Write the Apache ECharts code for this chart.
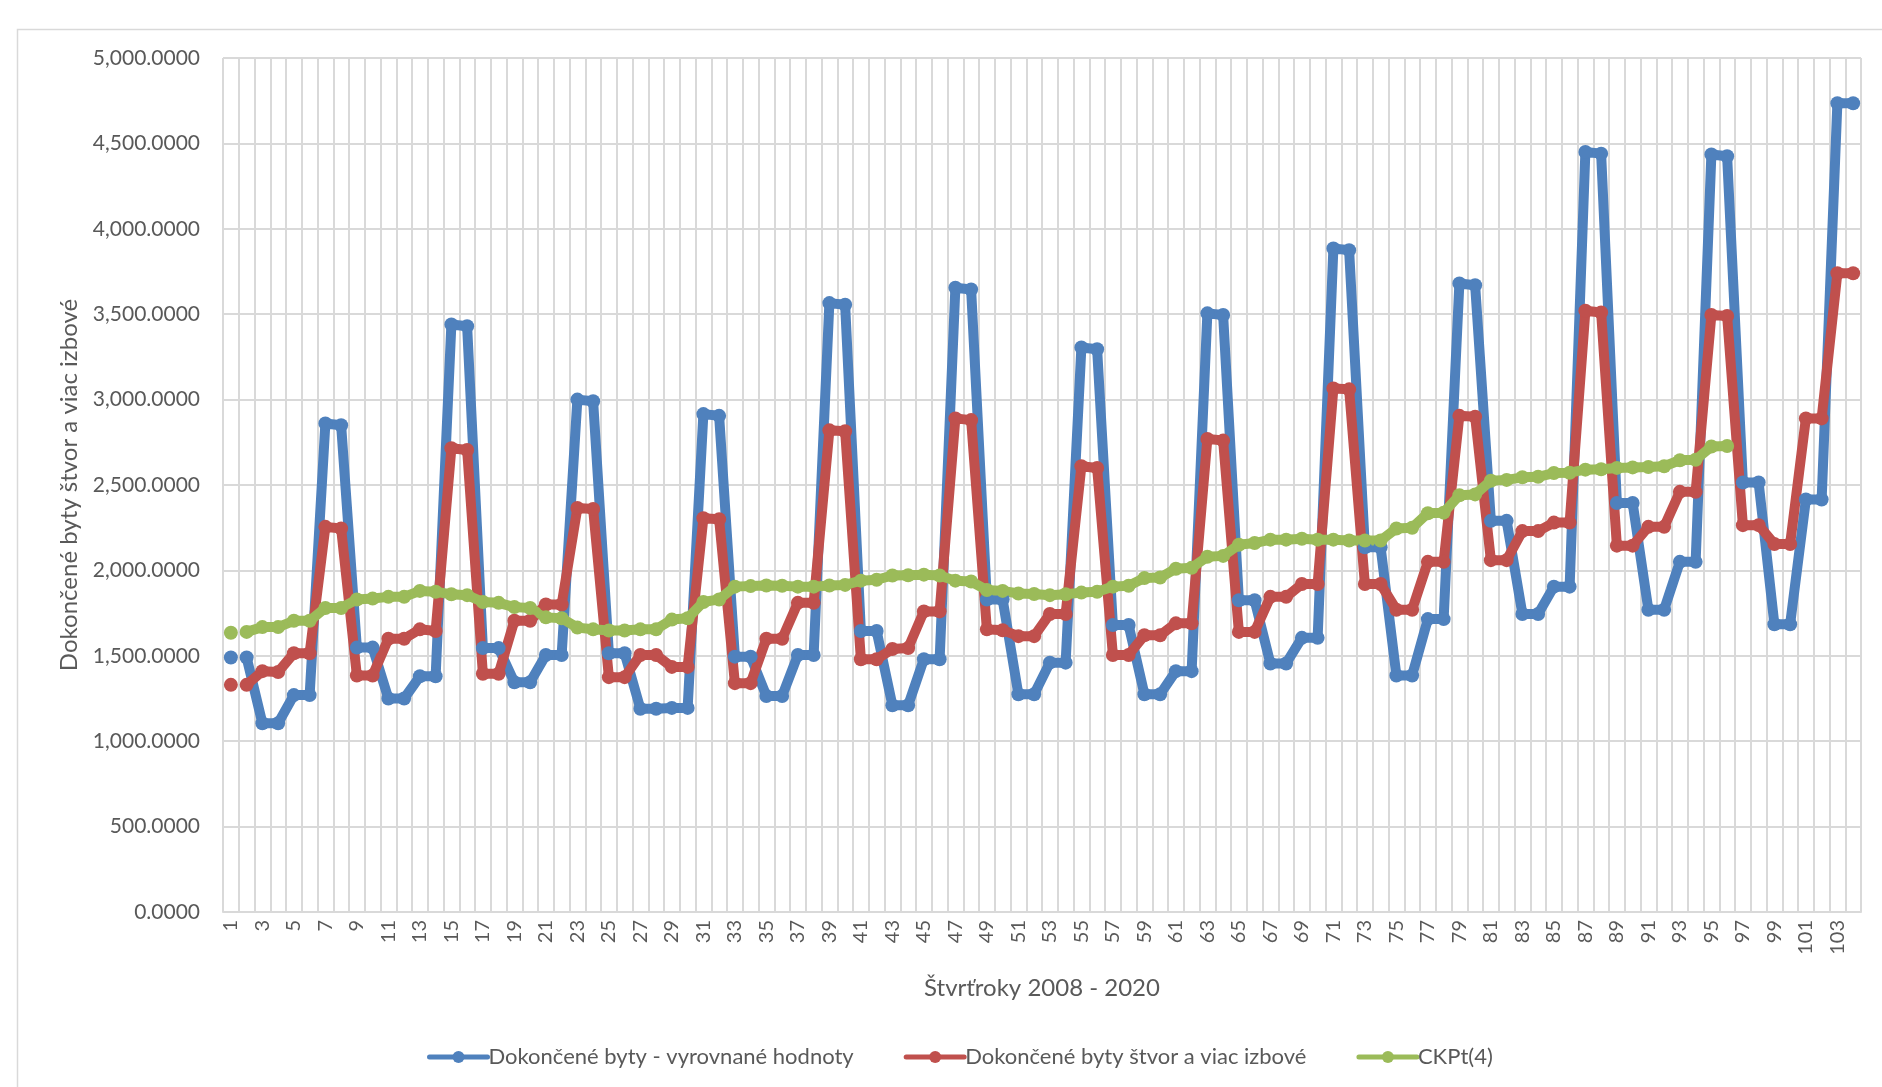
<!DOCTYPE html>
<html>
<head>
<meta charset="utf-8">
<script src="https://cdn.jsdelivr.net/npm/echarts@6/dist/echarts.min.js"></script>
<style>
  html, body { margin: 0; padding: 0; background: #fff; }
  #chart { width: 1882px; height: 1087px; }
</style>
</head>
<body>
<div id="chart"></div>
<script>
// stvrtroky 1..104
const quarters = Array.from({ length: 104 }, (_, i) => String(i + 1))

const seriesNames = [
  'Dokončené byty - vyrovnané hodnoty',
  'Dokončené byty štvor a viac izbové',
  'CKPt(4)'
]

const vyrovnane = [
  1490, 1490, 1105, 1105, 1270, 1270, 2860, 2850, 1548, 1548,
  1250, 1250, 1380, 1380, 3440, 3430, 1545, 1545, 1345, 1345,
  1505, 1505, 3000, 2990, 1515, 1515, 1190, 1190, 1195, 1195,
  2915, 2905, 1495, 1495, 1265, 1265, 1505, 1505, 3565, 3555,
  1645, 1645, 1210, 1210, 1480, 1480, 3655, 3645, 1830, 1830,
  1275, 1275, 1460, 1460, 3305, 3295, 1680, 1680, 1275, 1275,
  1410, 1410, 3505, 3495, 1825, 1825, 1455, 1455, 1605, 1605,
  3885, 3875, 2135, 2135, 1385, 1385, 1715, 1715, 3680, 3670,
  2290, 2290, 1745, 1745, 1905, 1905, 4450, 4440, 2395, 2395,
  1770, 1770, 2050, 2050, 4435, 4425, 2515, 2515, 1685, 1685,
  2415, 2415, 4735, 4735
]

const stvorIzbove = [
  1330, 1330, 1410, 1405, 1515, 1515, 2255, 2245, 1385, 1385,
  1600, 1600, 1655, 1645, 2715, 2705, 1395, 1395, 1705, 1705,
  1800, 1800, 2365, 2360, 1375, 1375, 1505, 1505, 1435, 1435,
  2305, 2300, 1340, 1340, 1600, 1600, 1810, 1810, 2820, 2815,
  1480, 1480, 1540, 1545, 1760, 1760, 2890, 2880, 1655, 1650,
  1615, 1615, 1745, 1745, 2610, 2600, 1505, 1505, 1620, 1620,
  1690, 1690, 2770, 2760, 1640, 1640, 1845, 1845, 1920, 1920,
  3065, 3060, 1920, 1920, 1770, 1770, 2050, 2050, 2905, 2900,
  2060, 2060, 2230, 2230, 2280, 2280, 3520, 3510, 2145, 2145,
  2255, 2255, 2460, 2460, 3495, 3490, 2265, 2265, 2155, 2155,
  2890, 2890, 3740, 3740
]

const ckpt4 = [
  1635, 1640, 1668, 1668, 1705, 1705, 1780, 1780, 1830, 1835,
  1845, 1845, 1880, 1875, 1860, 1855, 1815, 1810, 1785, 1780,
  1725, 1720, 1665, 1655, 1648, 1648, 1655, 1655, 1712, 1720,
  1815, 1830, 1905, 1908, 1912, 1910, 1905, 1905, 1912, 1915,
  1940, 1945, 1970, 1972, 1975, 1970, 1940, 1935, 1885, 1880,
  1865, 1862, 1855, 1860, 1870, 1875, 1905, 1910, 1955, 1958,
  2010, 2015, 2080, 2085, 2150, 2160, 2180, 2180, 2185, 2180,
  2180, 2175, 2175, 2175, 2245, 2250, 2335, 2338, 2440, 2445,
  2525, 2530, 2545, 2548, 2570, 2572, 2590, 2592, 2600, 2603,
  2605, 2610, 2645, 2648, 2725, 2728
]

const colors = ['#4F81BD', '#C0504D', '#9BBB59']
const textColor = '#595959'
const gridColor = '#d9d9d9'
const font = 'Lato, "Noto Sans", sans-serif'

// prvy bod je v originali odpojeny od ciary, preto dve serie s rovnakym menom
function makeSeries(name, values, color) {
  const style = {
    type: 'line',
    name: name,
    symbol: 'circle',
    symbolSize: 14,
    showAllSymbol: true,
    connectNulls: false,
    itemStyle: { color: color, borderWidth: 0 },
    lineStyle: { color: color, width: 10, cap: 'round', join: 'round' },
    emphasis: { disabled: true }
  }
  return [
    Object.assign({}, style, { data: [values[0]] }),
    Object.assign({}, style, { data: [null].concat(values.slice(1)) })
  ]
}

const chart = echarts.init(document.getElementById('chart'))
chart.setOption({
  animation: false,
  backgroundColor: '#fff',
  color: colors,
  textStyle: { fontFamily: font },
  graphic: [
    {
      type: 'rect',
      shape: { x: 17.5, y: 29.5, width: 1900, height: 1100 },
      style: { fill: 'none', stroke: gridColor, lineWidth: 1.5 },
      silent: true
    }
  ],
  grid: {
    left: 223,
    right: 21,
    top: 58,
    bottom: 175
  },
  legend: {
    bottom: 14,
    left: 422,
    itemWidth: 58,
    itemHeight: 15,
    itemGap: 50,
    data: seriesNames,
    lineStyle: { width: 5 },
    textStyle: { color: textColor, fontSize: 22, fontFamily: font, padding: [0, 0, 0, -4] }
  },
  xAxis: {
    type: 'category',
    data: quarters,
    boundaryGap: true,
    name: 'Štvrťroky 2008 - 2020',
    nameLocation: 'middle',
    nameGap: 64,
    nameTextStyle: { color: textColor, fontSize: 24, fontFamily: font },
    axisLine: { lineStyle: { color: gridColor, width: 2 } },
    axisTick: { show: false },
    axisLabel: {
      interval: 1,
      rotate: 90,
      margin: 8,
      color: textColor,
      fontSize: 20,
      fontFamily: font
    },
    splitLine: {
      show: true,
      interval: 0,
      lineStyle: { color: gridColor, width: 2 }
    }
  },
  yAxis: {
    type: 'value',
    min: 0,
    max: 5000,
    interval: 500,
    name: 'Dokončené byty štvor a viac izbové',
    nameLocation: 'middle',
    nameRotate: 90,
    nameGap: 142,
    nameTextStyle: { color: textColor, fontSize: 24, fontFamily: font },
    axisLine: { show: false },
    axisTick: { show: false },
    axisLabel: {
      margin: 23,
      color: textColor,
      fontSize: 21,
      fontFamily: font,
      formatter: v => v.toLocaleString('en-US', { minimumFractionDigits: 4, maximumFractionDigits: 4 })
    },
    splitLine: { lineStyle: { color: gridColor, width: 2 } }
  },
  series: [].concat(
    makeSeries(seriesNames[0], vyrovnane, colors[0]),
    makeSeries(seriesNames[1], stvorIzbove, colors[1]),
    makeSeries(seriesNames[2], ckpt4, colors[2])
  )
})
</script>
</body>
</html>
